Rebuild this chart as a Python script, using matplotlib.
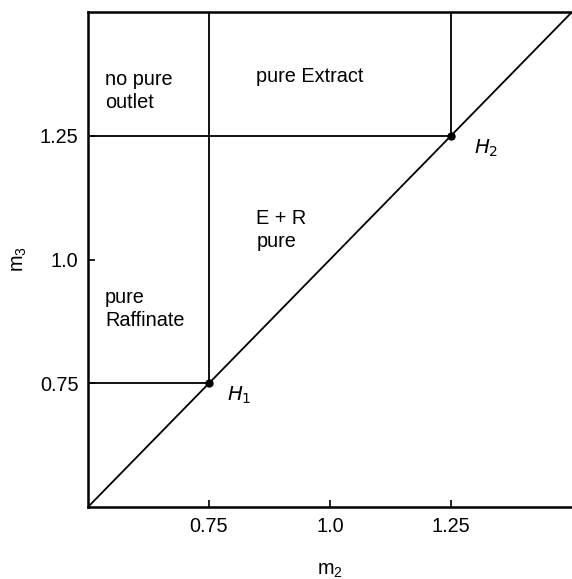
import numpy as np
import matplotlib.pyplot as plt

plt.rcParams['font.family'] = ['Liberation Sans', 'DejaVu Sans']
plt.rcParams['mathtext.default'] = 'regular'

# region boundaries (triangle theory, m2-m3 plane)
H1 = (0.75, 0.75)
H2 = (1.25, 1.25)
lim = (0.5, 1.5)
ticks = [0.75, 1.0, 1.25]
tick_labels = ['0.75', '1.0', '1.25']

regions = ['no pure\noutlet', 'pure Extract', 'E + R\npure', 'pure\nRaffinate']
region_pos = [(0.535, 1.34), (0.848, 1.37), (0.848, 1.06), (0.535, 0.90)]

fs = 14.3

fig = plt.figure(figsize=(5.72, 5.79), dpi=100)
ax = fig.add_axes([88 / 572, 1 - 507 / 579, 1 - 88 / 572, (507 - 12) / 579])

lw = 1.3
ax.plot(lim, lim, color='black', lw=lw)
ax.plot([lim[0], H1[0]], [H1[1], H1[1]], color='black', lw=lw)
ax.plot([H1[0], H1[0]], [H1[1], lim[1]], color='black', lw=lw)
ax.plot([lim[0], H2[0]], [H2[1], H2[1]], color='black', lw=lw)
ax.plot([H2[0], H2[0]], [H2[1], lim[1]], color='black', lw=lw)
ax.plot([H1[0], H2[0]], [H1[1], H2[1]], 'o', color='black', ms=5)

ax.text(H1[0] + 0.037, H1[1] - 0.024, r'$\mathit{H}_\mathit{1}$', fontsize=fs, va='center')
ax.text(H2[0] + 0.047, H2[1] - 0.026, r'$\mathit{H}_\mathit{2}$', fontsize=fs, va='center')

for txt, (x, y) in zip(regions, region_pos):
    ax.text(x, y, txt, fontsize=fs, va='center', ha='left', linespacing=1.25)

ax.set_xlim(lim)
ax.set_ylim(lim)
ax.set_xticks(ticks, tick_labels, fontsize=fs)
ax.set_yticks(ticks, tick_labels, fontsize=fs)
ax.tick_params(direction='in', length=5, width=1.2, pad=7)
ax.spines['right'].set_visible(False)
for s in ['left', 'bottom', 'top']:
    ax.spines[s].set_linewidth(1.8)
ax.set_xlabel('m$_2$', fontsize=fs, labelpad=18)
ax.set_ylabel('m$_3$', fontsize=fs, labelpad=8)

fig.savefig('out.png', dpi=100)
